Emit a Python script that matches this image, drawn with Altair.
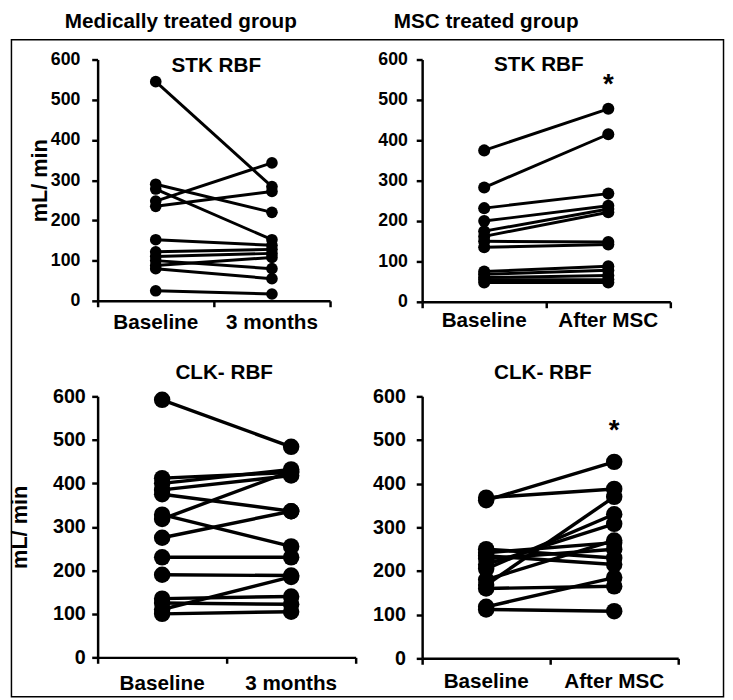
import altair as alt
import pandas as pd

# ---------------- data (renal blood flow, mL/min) ----------------
med_cats = ["Baseline", "3 months"]
msc_cats = ["Baseline", "After MSC"]

stk_med_baseline = [545, 290, 278, 248, 235, 152, 122, 110, 100, 88, 80, 25]
stk_med_3months = [284, 220, 152, 343, 272, 138, 128, 118, 80, 108, 55, 17]

stk_msc_baseline = [375, 283, 232, 200, 175, 162, 150, 135, 75, 68, 60, 55, 48]
stk_msc_after = [478, 415, 268, 238, 230, 222, 148, 142, 88, 78, 65, 55, 48]

clk_med_baseline = [592, 412, 400, 385, 375, 328, 318, 275, 230, 190, 135, 125, 110, 100]
clk_med_3months = [484, 425, 432, 418, 336, 255, 428, 336, 230, 188, 140, 122, 185, 105]

clk_msc_baseline = [362, 368, 250, 242, 235, 228, 215, 205, 180, 168, 160, 118, 112]
clk_msc_after = [450, 388, 230, 265, 215, 250, 308, 330, 270, 370, 165, 185, 108]

y_ticks = [0, 100, 200, 300, 400, 500, 600]
star_stk = 518  # level of the significance asterisk
star_clk = 503

FONT = "Arial"


def panel(cats, before, after, w, h, title, title_x, title_y, tick_fs,
          label_pad, ytitle, ytitle_x, cat_y, pt_size, lw, star_v=None,
          extras=()):
    rows = []
    for i, (b, a) in enumerate(zip(before, after)):
        rows.append({"subject": i, "pos": 0.5, "time": cats[0], "value": b})
        rows.append({"subject": i, "pos": 1.5, "time": cats[1], "value": a})
    df = pd.DataFrame(rows)

    x = alt.X("pos:Q", scale=alt.Scale(domain=[0, 2], nice=False, zero=False),
              axis=alt.Axis(values=[0, 1, 2], labels=False, title=None,
                            tickSize=6, tickWidth=2.5, domainWidth=2.5,
                            grid=False))
    yaxis = dict(values=y_ticks, grid=False, tickSize=6, tickWidth=2.5,
                 domainWidth=2.5, labelFontSize=tick_fs, labelPadding=label_pad,
                 labelFont=FONT, labelFontWeight="bold", labelColor="black")
    if ytitle:
        yaxis.update(title=ytitle, titleFont=FONT, titleFontSize=22,
                     titleFontWeight="bold", titleColor="black",
                     titleX=ytitle_x, titleY=h / 2)
    else:
        yaxis.update(title=None)
    y = alt.Y("value:Q", scale=alt.Scale(domain=[0, 600], nice=False),
              axis=alt.Axis(**yaxis))

    lines = alt.Chart(df).mark_line(color="black", strokeWidth=lw).encode(
        x=x, y=y, detail="subject:N")
    pts = alt.Chart(df).mark_circle(color="black", opacity=1, size=pt_size).encode(
        x="pos:Q", y="value:Q")
    cat_df = pd.DataFrame({"pos": [0.5, 1.5], "time": cats})
    labels = alt.Chart(cat_df).mark_text(
        font=FONT, fontSize=21, fontWeight="bold", baseline="alphabetic",
        color="black").encode(x="pos:Q", y=alt.value(cat_y), text="time:N")
    ttl = alt.Chart(pd.DataFrame({"t": [title]})).mark_text(
        font=FONT, fontSize=21, fontWeight="bold", baseline="middle",
        color="black").encode(x=alt.value(title_x), y=alt.value(title_y), text="t:N")
    layers = list(extras) + [lines, pts, labels, ttl]
    if star_v is not None:
        sdf = pd.DataFrame({"pos": [1.5], "value": [star_v], "s": ["*"]})
        layers.append(alt.Chart(sdf).mark_text(
            font=FONT, fontSize=28, fontWeight="bold", baseline="alphabetic",
            color="black").encode(x="pos:Q", y="value:Q", text="s:N"))
    return alt.layer(*layers).properties(width=w, height=h)


one = pd.DataFrame({"k": [0]})
border = alt.Chart(one).mark_rect(fill="white", fillOpacity=0, stroke="black",
                                  strokeWidth=1.5).encode(
    x=alt.value(-87.5), x2=alt.value(635.5), y=alt.value(-20), y2=alt.value(647))
head1 = alt.Chart(pd.DataFrame({"t": ["Medically treated group"]})).mark_text(
    font=FONT, fontSize=21, fontWeight="bold", baseline="middle", color="black"
).encode(x=alt.value(84.5), y=alt.value(-38), text="t:N")
head2 = alt.Chart(pd.DataFrame({"t": ["MSC treated group"]})).mark_text(
    font=FONT, fontSize=21, fontWeight="bold", baseline="middle", color="black"
).encode(x=alt.value(65), y=alt.value(-38), text="t:N")

p1 = panel(med_cats, stk_med_baseline, stk_med_3months, 236, 245, "STK RBF",
           120.5, 7, 18, 12, "mL/ min", -47, 274, 140, 3, extras=(border, head1))
p2 = panel(msc_cats, stk_msc_baseline, stk_msc_after, 252, 246, "STK RBF",
           118.5, 6, 18, 9, None, 0, 272, 150, 3, star_v=star_stk, extras=(head2,))
p3 = panel(med_cats, clk_med_baseline, clk_med_3months, 262, 265, "CLK- RBF",
           128.5, -24, 20, 6.5, "mL/ min", -67.5, 298, 280, 3.5)
p4 = panel(msc_cats, clk_msc_baseline, clk_msc_after, 260, 266, "CLK- RBF",
           122.5, -24, 20, 11, None, 0, 296, 280, 3.5, star_v=star_clk)

chart = alt.concat(
    p1, p2, p3, p4, columns=2, spacing={"row": 96, "column": 67.5},
    bounds="flush", align="each"
).properties(
    padding={"left": 0, "top": -2, "right": 0, "bottom": 0}
).configure_view(stroke=None).configure_axis(
    domainColor="black", tickColor="black")

chart.save("out.html", embed_options={"renderer": "svg", "actions": False})
